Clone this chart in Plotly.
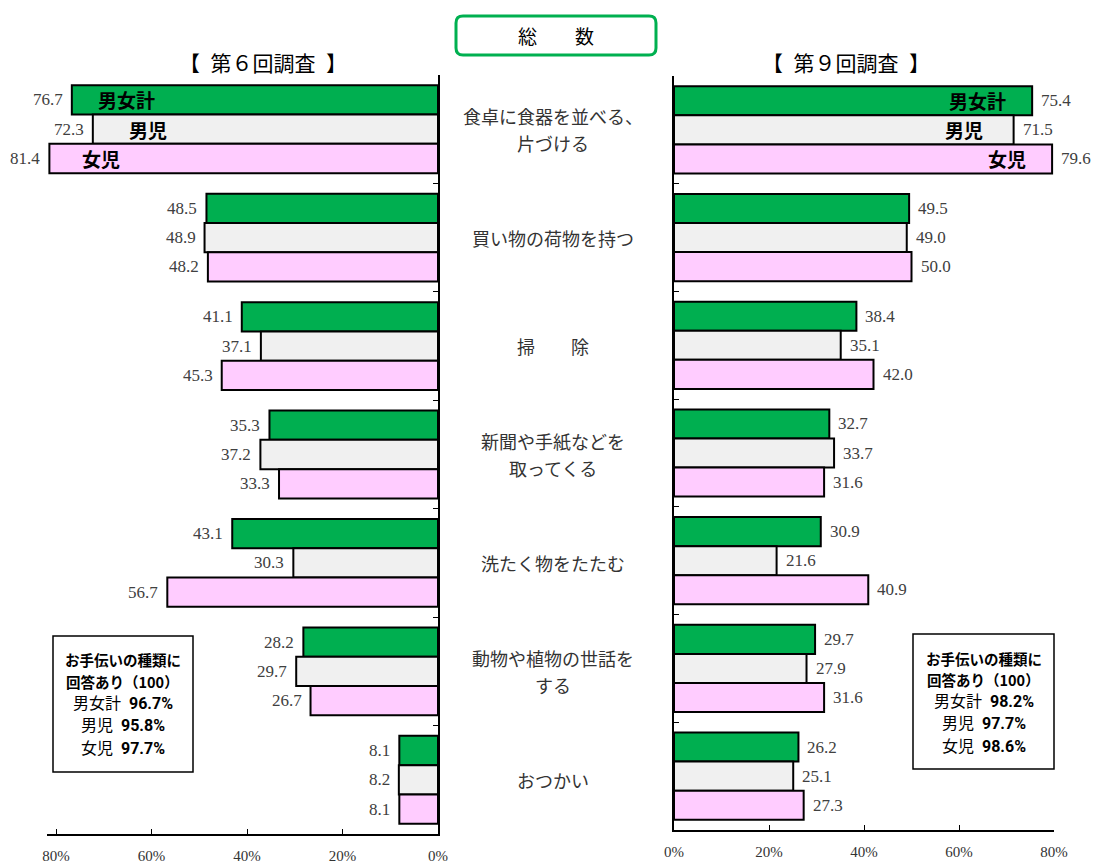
import plotly.graph_objects as go

W, H = 1094, 864

# ---------------- data ----------------
categories = [
    "食卓に食器を並べる、<br>片づける",
    "買い物の荷物を持つ",
    "掃　　除",
    "新聞や手紙などを<br>取ってくる",
    "洗たく物をたたむ",
    "動物や植物の世話を<br>する",
    "おつかい",
]
series_names = ["男女計", "男児", "女児"]

r6_total = [76.7, 48.5, 41.1, 35.3, 43.1, 28.2, 8.1]
r6_boys = [72.3, 48.9, 37.1, 37.2, 30.3, 29.7, 8.2]
r6_girls = [81.4, 48.2, 45.3, 33.3, 56.7, 26.7, 8.1]

r9_total = [75.4, 49.5, 38.4, 32.7, 30.9, 29.7, 26.2]
r9_boys = [71.5, 49.0, 35.1, 33.7, 21.6, 27.9, 25.1]
r9_girls = [79.6, 50.0, 42.0, 31.6, 40.9, 31.6, 27.3]

tick_vals = [0, 20, 40, 60, 80]
tick_text = ["0%", "20%", "40%", "60%", "80%"]

title_text = "総　　数"
sub_r6 = "【\u2002第６回調査\u2002】"
sub_r9 = "【\u2002第９回調査\u2002】"

info_head = ["お手伝いの種類に", "回答あり（100）"]
info_r6_pct = ["96.7%", "95.8%", "97.7%"]
info_r9_pct = ["98.2%", "97.7%", "98.6%"]

# ---------------- style ----------------
colors = ["#00AF50", "#F0F0F0", "#FFCCFF"]
SERIF = "Liberation Serif, DejaVu Serif, serif"
JP = "Noto Sans CJK JP, sans-serif"
NARROW = "Liberation Sans Narrow, Roboto, Noto Sans CJK JP, sans-serif"
BW = 0.27


def px(x):
    return x / W


def py(y):
    return 1 - y / H


r6 = [r6_total, r6_boys, r6_girls]
r9 = [r9_total, r9_boys, r9_girls]
idx = list(range(len(categories)))

fig = go.Figure()
for panel, (series, xa, ya) in enumerate([(r6, "x", "y"), (r9, "x2", "y2")]):
    for i, vals in enumerate(series):
        fig.add_trace(go.Bar(
            x=vals, y=idx, orientation="h",
            width=BW, offset=(i - 1) * BW - BW / 2,
            marker=dict(color=colors[i], line=dict(color="black", width=2)),
            xaxis=xa, yaxis=ya, showlegend=False, hoverinfo="skip",
            name=series_names[i],
        ))

annotations = []
# value labels
for i, vals in enumerate(r6):
    for c, v in enumerate(vals):
        annotations.append(dict(
            x=v, y=c + (i - 1) * BW, xref="x", yref="y", text=f"{v:.1f}",
            xanchor="right", yanchor="middle", xshift=-7, showarrow=False,
            font=dict(family=SERIF, size=17, color="#404040")))
for i, vals in enumerate(r9):
    for c, v in enumerate(vals):
        annotations.append(dict(
            x=v, y=c + (i - 1) * BW, xref="x2", yref="y2", text=f"{v:.1f}",
            xanchor="left", yanchor="middle", xshift=7, showarrow=False,
            font=dict(family=SERIF, size=17, color="#404040")))

# in-bar series names (first category)
left_shift = [24, 34, 31]
right_shift = [-24, -29, -24]
for i, nm in enumerate(series_names):
    annotations.append(dict(
        x=r6[i][0], y=(i - 1) * BW, xref="x", yref="y", text=f"<b>{nm}</b>",
        xanchor="left", yanchor="middle", xshift=left_shift[i], showarrow=False,
        font=dict(family=JP, size=19, color="black")))
    annotations.append(dict(
        x=r9[i][0], y=(i - 1) * BW, xref="x2", yref="y2", text=f"<b>{nm}</b>",
        xanchor="right", yanchor="middle", xshift=right_shift[i], showarrow=False,
        font=dict(family=JP, size=19, color="black")))

# category labels in the middle
for c, cat in enumerate(categories):
    lines = cat.split("<br>")
    n = len(lines)
    for k, ln in enumerate(lines):
        annotations.append(dict(
            x=px(553), y=c, xref="paper", yref="y", text=ln,
            xanchor="center", yanchor="middle", showarrow=False,
            yshift=(n - 1) * 13.5 - k * 27,
            font=dict(family=JP, size=18, color="#333333")))

# title & subtitles
annotations.append(dict(x=px(556), y=py(36), xref="paper", yref="paper",
                        text=title_text, showarrow=False, xanchor="center",
                        yanchor="middle", font=dict(family=JP, size=19, color="black")))
annotations.append(dict(x=px(263), y=py(62), xref="paper", yref="paper",
                        text=sub_r6, showarrow=False, xanchor="center",
                        yanchor="middle", font=dict(family=JP, size=21, color="black")))
annotations.append(dict(x=px(846), y=py(62), xref="paper", yref="paper",
                        text=sub_r9, showarrow=False, xanchor="center",
                        yanchor="middle", font=dict(family=JP, size=21, color="black")))

# info boxes
shapes = []
boxes = [
    dict(x0=53, x1=193, y0=636, y1=772, ys=[659, 681, 703, 725, 748], pct=info_r6_pct),
    dict(x0=913, x1=1054, y0=634, y1=769, ys=[658, 679, 701, 723, 746], pct=info_r9_pct),
]
for b in boxes:
    shapes.append(dict(type="rect", xref="paper", yref="paper",
                       x0=px(b["x0"]), x1=px(b["x1"]), y0=py(b["y1"]), y1=py(b["y0"]),
                       line=dict(color="black", width=1.5), fillcolor="white", layer="below"))
    cx = px((b["x0"] + b["x1"]) / 2)
    for k, t in enumerate(info_head):
        annotations.append(dict(x=cx, y=py(b["ys"][k]), xref="paper", yref="paper",
                                text=f"<b>{t}</b>", showarrow=False, xanchor="center",
                                yanchor="middle", font=dict(family=JP, size=14.5, color="black")))
    for k, nm in enumerate(series_names):
        annotations.append(dict(x=cx, y=py(b["ys"][k + 2]), xref="paper", yref="paper",
                                text=f"{nm}&nbsp;&nbsp;<b>{b['pct'][k]}</b>", showarrow=False,
                                xanchor="center", yanchor="middle",
                                font=dict(family=NARROW, size=16, color="black")))

# rounded title box
x0, x1, y0, y1, r = 456, 656, 16, 55, 7
pts = [
    ("M", [(x0 + r, y0)]), ("L", [(x1 - r, y0)]), ("Q", [(x1, y0), (x1, y0 + r)]),
    ("L", [(x1, y1 - r)]), ("Q", [(x1, y1), (x1 - r, y1)]), ("L", [(x0 + r, y1)]),
    ("Q", [(x0, y1), (x0, y1 - r)]), ("L", [(x0, y0 + r)]), ("Q", [(x0, y0), (x0 + r, y0)]),
]
path = " ".join(cmd + " " + " ".join(f"{px(a):.5f},{py(b_):.5f}" for a, b_ in p) for cmd, p in pts) + " Z"
shapes.append(dict(type="path", xref="paper", yref="paper", path=path,
                   line=dict(color="#00B050", width=3), fillcolor="white"))

boundaries = [k - 0.5 for k in range(len(categories) + 1)]
xcommon = dict(showline=True, linecolor="black", linewidth=1.5, ticks="inside",
               ticklen=5, tickcolor="black", tickvals=tick_vals, ticktext=tick_text,
               tickfont=dict(family=SERIF, size=15, color="#333333"),
               ticklabelstandoff=7, showgrid=False, zeroline=False,
               automargin=False, fixedrange=True)
ycommon = dict(showline=True, linecolor="black", linewidth=1.5, ticks="inside",
               ticklen=5, tickcolor="black", tickvals=boundaries, showticklabels=False,
               range=[len(categories) - 0.5, -0.5], showgrid=False, zeroline=False,
               automargin=False, fixedrange=True)

fig.update_layout(
    width=W, height=H, margin=dict(l=0, r=0, t=0, b=0),
    paper_bgcolor="white", plot_bgcolor="white",
    barmode="overlay",
    xaxis=dict(domain=[px(47), px(438)], range=[81.9, 0], anchor="y", **xcommon),
    yaxis=dict(domain=[py(834), py(75)], anchor="x", side="right", **ycommon),
    xaxis2=dict(domain=[px(674), px(1054)], range=[0, 80], anchor="y2", **xcommon),
    yaxis2=dict(domain=[py(830), py(76)], anchor="x2", side="left", **ycommon),
    annotations=annotations,
    shapes=shapes,
)

fig.write_html("out.html")
